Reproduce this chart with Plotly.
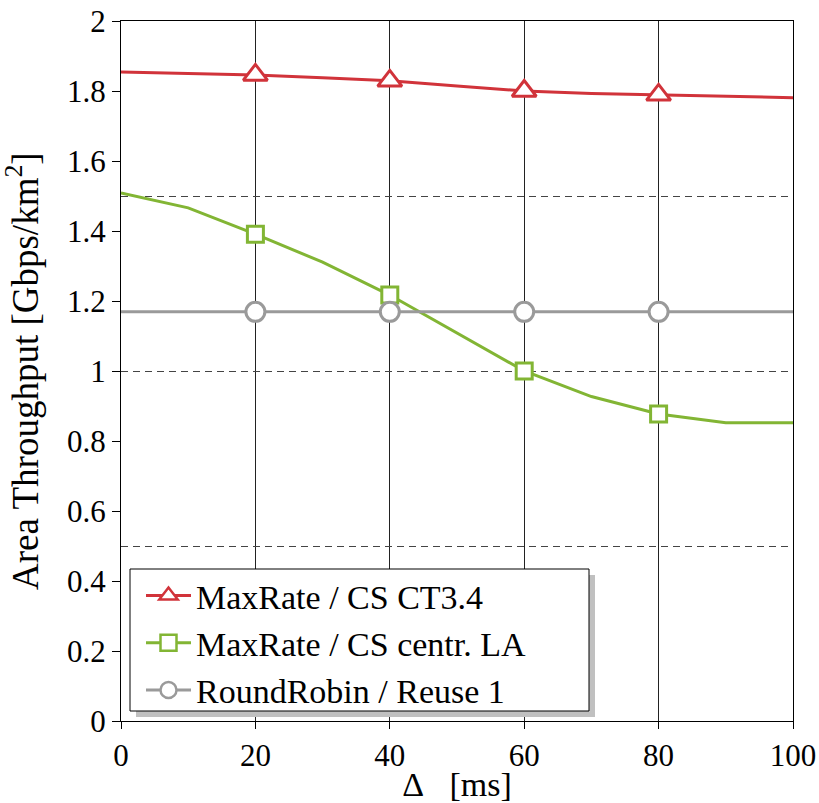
import plotly.graph_objects as go

# ---- data ----
delta_ms = [0, 10, 20, 30, 40, 50, 60, 70, 80, 90, 100]
maxrate_ct34 = [1.854, 1.851, 1.846, 1.838, 1.829, 1.814, 1.800, 1.793, 1.789, 1.785, 1.781]
maxrate_centr_la = [1.509, 1.466, 1.391, 1.311, 1.217, 1.108, 1.000, 0.927, 0.877, 0.852, 0.852]
roundrobin_reuse1 = [1.169] * 11
marker_x = [20, 40, 60, 80]

series_names = ["MaxRate / CS CT3.4", "MaxRate / CS centr. LA", "RoundRobin / Reuse 1"]
series_values = [maxrate_ct34, maxrate_centr_la, roundrobin_reuse1]
series_colors = ["#d1333a", "#82b534", "#9a9a9a"]
series_symbols = ["triangle-up", "square", "circle"]
marker_sizes = [21, 16, 19]

x_ticks = [0, 20, 40, 60, 80, 100]
y_ticks = [0, 0.2, 0.4, 0.6, 0.8, 1.0, 1.2, 1.4, 1.6, 1.8, 2.0]
y_ticklabels = ["0", "0.2", "0.4", "0.6", "0.8", "1", "1.2", "1.4", "1.6", "1.8", "2"]
dashed_levels = [0.5, 1.0, 1.5]
y_title = "Area Throughput [Gbps/km<sup>2</sup>]"
x_title = "Δ\u00a0\u00a0\u00a0[ms]"

FONT = "Liberation Serif, Times New Roman, serif"

fig = go.Figure()

for name, vals, col, sym, ms in zip(series_names, series_values, series_colors, series_symbols, marker_sizes):
    fig.add_trace(go.Scatter(x=delta_ms, y=vals, mode="lines",
                             line=dict(color=col, width=3), showlegend=False, hoverinfo="skip"))
    mx = [x for x in delta_ms if x in marker_x]
    my = [v for x, v in zip(delta_ms, vals) if x in marker_x]
    fig.add_trace(go.Scatter(x=mx, y=my, mode="markers",
                             marker=dict(symbol=sym, size=ms, color="white",
                                         line=dict(color=col, width=3)),
                             showlegend=False))

for name, col, sym in zip(series_names, series_colors, series_symbols):
    fig.add_trace(go.Scatter(x=[None], y=[None], mode="lines+markers", name=name,
                             line=dict(color=col, width=3),
                             marker=dict(symbol=sym, size=16, color="white",
                                         line=dict(color=col, width=2.5)),
                             yaxis="y2"))

FW, FH = 819, 803
# plot area in page pixels
L, R, T, B = 121, 793, 21, 721
W, H = R - L, B - T
def px_x(p): return (p - L) / W
def px_y(p): return (B - p) / H

fig.add_shape(type="rect", xref="paper", yref="paper",
              x0=px_x(136), x1=px_x(595), y0=px_y(717), y1=px_y(575),
              fillcolor="#c0c0c0", line=dict(width=0), layer="above")
fig.add_shape(type="rect", xref="paper", yref="paper",
              x0=px_x(130), x1=px_x(589), y0=px_y(711), y1=px_y(569),
              fillcolor="white", line=dict(color="black", width=1), layer="above")

fig.add_annotation(text=y_title, xref="paper", yref="paper", x=px_x(22), y=px_y(371),
                   xanchor="center", yanchor="middle", textangle=-90, showarrow=False,
                   font=dict(family=FONT, size=37, color="black"))

fig.update_layout(
    width=FW, height=FH,
    margin=dict(l=L, r=FW - R, t=T, b=FH - B, autoexpand=False),
    paper_bgcolor="white", plot_bgcolor="white",
    font=dict(family=FONT, size=31, color="black"),
    showlegend=True,
    legend=dict(x=px_x(141), y=px_y(567), xanchor="left", yanchor="top",
                bgcolor="rgba(0,0,0,0)", borderwidth=0,
                font=dict(family=FONT, size=34), itemwidth=45, tracegroupgap=0),
    xaxis=dict(range=[0, 100], tickvals=x_ticks, ticks="outside", ticklen=7, tickcolor="black",
               showline=True, linecolor="black", linewidth=1, mirror=True, automargin=False,
               showgrid=True, gridcolor="#222", gridwidth=1, zeroline=False,
               tickfont=dict(size=31), ticklabeloverflow="allow",
               title=dict(text=x_title, font=dict(size=34), standoff=6)),
    yaxis=dict(range=[0, 2], tickvals=y_ticks, ticktext=y_ticklabels, ticks="outside",
               ticklen=8, tickcolor="black", automargin=False,
               showline=True, linecolor="black", linewidth=1, mirror=True,
               showgrid=False, zeroline=False, tickfont=dict(size=31), ticklabeloverflow="allow"),
    yaxis2=dict(range=[0, 2], overlaying="y", side="left", tickvals=dashed_levels,
                showticklabels=False, ticks="", showline=False, zeroline=False, automargin=False,
                showgrid=True, gridcolor="#444", gridwidth=1, griddash="7px,5px"),
)

fig.write_html("out.html", config={"displayModeBar": False},
               post_script="document.body.style.margin='0';document.body.style.padding='0';")
